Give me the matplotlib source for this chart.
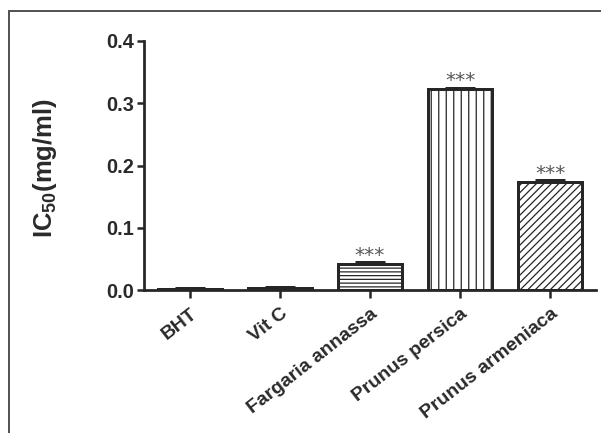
import matplotlib
matplotlib.use("Agg")
import matplotlib.pyplot as plt
from matplotlib.lines import Line2D

categories = ["BHT", "Vit C", "Fargaria annassa", "Prunus persica", "Prunus armeniaca"]
values = [0.002, 0.004, 0.042, 0.323, 0.174]
errors = [0.0005, 0.0005, 0.0025, 0.002, 0.002]
hatches = ["", "", "----", "||", "////"]
stars = ["", "", "***", "***", "***"]
yticks = [0.0, 0.1, 0.2, 0.3, 0.4]

plt.rcParams["font.family"] = ["Liberation Sans", "DejaVu Sans"]
plt.rcParams["mathtext.fontset"] = "custom"
plt.rcParams["mathtext.bf"] = "Liberation Sans:bold"
plt.rcParams["mathtext.rm"] = "Liberation Sans"
plt.rcParams["hatch.linewidth"] = 1.0

DPI = 90
fig = plt.figure(figsize=(601 / DPI, 433 / DPI), dpi=DPI)
W, H = 601, 433
ax = fig.add_axes([144 / W, 1 - 290 / H, (596 - 144) / W, (290 - 41) / H])

edge = "#262626"
x = list(range(len(categories)))
for i in x:
    ax.bar(i, values[i], width=0.71, facecolor="white", edgecolor=edge,
           linewidth=2.4, hatch=hatches[i], zorder=3)
    ax.errorbar(i, values[i], yerr=[[0], [errors[i]]], fmt="none",
                ecolor=edge, elinewidth=2.0, capsize=12, capthick=2.4, zorder=4)
    if stars[i]:
        ax.text(i, values[i] + errors[i] + 0.002, stars[i], ha="center",
                va="baseline", fontsize=16, color="#555555",
                family="DejaVu Sans")

ax.set_xlim(-0.51, 4.51)
ax.set_ylim(0, 0.4)
ax.set_yticks(yticks)
ax.set_yticklabels([f"{v:.1f}" for v in yticks], fontsize=16, fontweight="bold",
                   color="#2a2a2a")
ax.set_xticks(x)
ax.set_xticklabels(categories, rotation=38, ha="right", rotation_mode="anchor",
                   fontsize=15.5, fontweight="bold", color="#2a2a2a")
ax.tick_params(axis="both", length=6, width=2.0, color=edge, pad=2)
ax.tick_params(axis="x", pad=6)
for s in ["top", "right"]:
    ax.spines[s].set_visible(False)
for s in ["left", "bottom"]:
    ax.spines[s].set_linewidth(2.2)
    ax.spines[s].set_color(edge)

fig.text(45 / W, 1 - 168 / H, r"$\mathbf{IC_{50}(mg/ml)}$", rotation=90,
         ha="center", va="center", fontsize=20.5, color="#2a2a2a")

# figure frame (top and left lines)
fig.add_artist(Line2D([9 / W, 1], [1 - 11 / H, 1 - 11 / H], transform=fig.transFigure,
                      color="#555555", linewidth=1.6))
fig.add_artist(Line2D([9 / W, 9 / W], [0, 1 - 11 / H], transform=fig.transFigure,
                      color="#555555", linewidth=1.6))

fig.savefig("out.png", dpi=DPI)
